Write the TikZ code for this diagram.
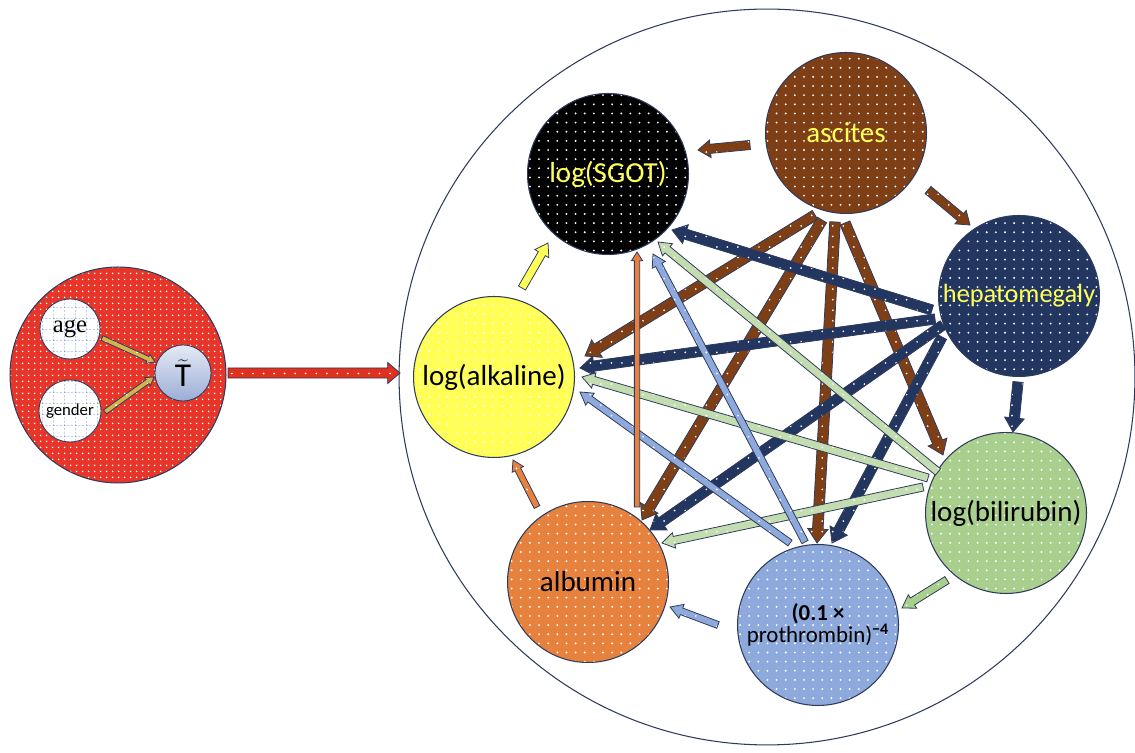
\documentclass[tikz,border=0pt]{standalone}
\usepackage{fontspec}
\setmainfont{Carlito}
\newfontfamily\agefont{Liberation Serif}
\usetikzlibrary{calc,patterns.meta}

\definecolor{edgecol}{HTML}{2F3B5C}
\definecolor{redfill}{HTML}{E8352A}
\definecolor{brownfill}{HTML}{7E3F16}
\definecolor{navyfill}{HTML}{233660}
\definecolor{yellowfill}{HTML}{FFFF55}
\definecolor{greenfill}{HTML}{A9CF8E}
\definecolor{greenarrow}{HTML}{C3DDB0}
\definecolor{orangefill}{HTML}{E7823E}
\definecolor{bluefill}{HTML}{8EA9DB}
\definecolor{labelyellow}{HTML}{FFFF5A}
\definecolor{goldarrow}{HTML}{D6B24C}
\definecolor{tlight}{HTML}{E4E9F5}
\definecolor{tdark}{HTML}{9CAED6}
\definecolor{gridblue}{HTML}{4F78C0}
\definecolor{redarrow}{HTML}{E0301E}

\tikzdeclarepattern{
  name=nodedots, type=uncolored,
  bottom left={(-2.6pt,-2.6pt)}, top right={(2.6pt,2.6pt)},
  tile size={(5.2pt,5.2pt)},
  code={\fill (0pt,0pt) circle (0.6pt);}
}
\tikzdeclarepattern{
  name=reddots, type=uncolored,
  bottom left={(-1.6pt,-1.6pt)}, top right={(1.6pt,1.6pt)},
  tile size={(3.2pt,3.2pt)},
  code={\fill (0pt,0pt) circle (0.5pt);}
}
\tikzdeclarepattern{
  name=arrowdots, type=uncolored,
  bottom left={(-3pt,-3pt)}, top right={(3pt,3pt)},
  tile size={(6pt,6pt)},
  code={\fill (0pt,0pt) circle (0.55pt);}
}
\tikzdeclarepattern{
  name=dashgrid, type=uncolored,
  bottom left={(0pt,0pt)}, top right={(6pt,6pt)},
  tile size={(6pt,6pt)},
  code={\draw[line width=0.5pt, dash pattern=on 1.2pt off 0.8pt] (0pt,0pt) -- (6pt,0pt) (0pt,0pt) -- (0pt,6pt);}
}

\tikzset{
  var/.style={circle, draw=edgecol, line width=0.6pt, minimum size=3.22cm, inner sep=0pt,
    preaction={fill=#1}, pattern=nodedots, pattern color=white,
    font=\fontsize{16.5}{18}\selectfont},
  cov/.style={circle, draw=edgecol, line width=0.5pt, inner sep=0pt,
    preaction={fill=white}, pattern=dashgrid, pattern color=gridblue}
}

% fat arrow: colour, half shaft, half head, head length, start, tip
\newcommand{\blockarrow}[6]{%
  \coordinate (ba-s) at #5;
  \coordinate (ba-t) at #6;
  \coordinate (ba-h) at ($(ba-t)!#4!(ba-s)$);
  \path[draw=edgecol, line width=0.45pt, preaction={fill=#1}, pattern=arrowdots, pattern color=white]
    ($(ba-s)!#2!90:(ba-t)$) -- ($(ba-h)!#2!90:(ba-t)$) -- ($(ba-h)!#3!90:(ba-t)$) -- (ba-t)
    -- ($(ba-h)!#3!-90:(ba-t)$) -- ($(ba-h)!#2!-90:(ba-t)$) -- ($(ba-s)!#2!-90:(ba-t)$) -- cycle;
}

\begin{document}
\begin{tikzpicture}[x=0.02cm, y=0.02cm]
  \useasboundingbox (0,0) rectangle (1135,753);

  % covariates
  \node[circle, draw=edgecol, line width=0.6pt, minimum size=4.32cm, preaction={fill=redfill},
    pattern=reddots, pattern color=white] (cv) at (118,378) {};
  \node[cov, minimum size=1.2cm, font=\agefont\fontsize{14}{15}\selectfont] (age) at (70,424) {age};
  \node[cov, minimum size=1.24cm, font=\fontsize{9.5}{10}\selectfont] (gen) at (70,342) {gender};
  \node[circle, draw=edgecol, line width=0.5pt, minimum size=1.12cm, inner sep=0pt,
    top color=tlight, bottom color=tdark, font=\fontsize{19}{19}\selectfont] (T) at (183,380) {$\widetilde{\mathrm{T}}$};

  % network of markers
  \node[circle, draw=edgecol, line width=0.6pt, minimum size=14.72cm] (net) at (767,376) {};
  \node[var=black, text=labelyellow] (sgot) at (608,579) {log(SGOT)};
  \node[var=brownfill, text=labelyellow] (asc) at (846,620) {ascites};
  \node[var=navyfill, text=labelyellow, font=\fontsize{15}{16}\selectfont] (hep) at (1019,457) {hepatomegaly};
  \node[var=yellowfill] (alk) at (494,376) {log(alkaline)};
  \node[var=greenfill] (bil) at (1006,240) {log(bilirubin)};
  \node[var=orangefill] (alb) at (588,171) {albumin};
  \node[var=bluefill, align=center, font=\fontsize{13}{12.5}\selectfont] (pro) at (818,128)
    {\textbf{(0.1 ×}\\prothrombin)\textsuperscript{\textbf{−4}}};

  \blockarrow{goldarrow}{1.4pt}{2.8pt}{4.5pt}{($(age)+(32,-9)$)}{($(T)+(-28,11)$)}
  \blockarrow{goldarrow}{1.4pt}{2.8pt}{4.5pt}{($(gen)+(35,-1)$)}{($(T)+(-29,-4)$)}
  \blockarrow{redarrow}{2.9pt}{6pt}{7pt}{($(cv)+(110,2)$)}{($(net)+(-367,4)$)}

  % ascites
  \blockarrow{brownfill}{2.6pt}{5pt}{7pt}{($(asc)+(-96,-12)$)}{($(sgot)+(90,24)$)}
  \blockarrow{brownfill}{2.6pt}{5pt}{7pt}{($(asc)+(82,-57)$)}{($(hep)+(-49,71)$)}
  \blockarrow{brownfill}{3pt}{5.8pt}{8pt}{($(asc)+(-31,-82)$)}{($(alk)+(91,21)$)}
  \blockarrow{brownfill}{3pt}{5.8pt}{8pt}{($(asc)+(-24,-87)$)}{($(alb)+(54,62)$)}
  \blockarrow{brownfill}{3pt}{5.8pt}{8pt}{($(asc)+(-11,-89)$)}{($(pro)+(-1,82)$)}
  \blockarrow{brownfill}{3pt}{5.8pt}{8pt}{($(asc)+(-1,-90)$)}{($(bil)+(-63,58)$)}
  % hepatomegaly
  \blockarrow{navyfill}{2.9pt}{5.6pt}{8pt}{($(hep)+(-87,-14)$)}{($(sgot)+(64,-56)$)}
  \blockarrow{navyfill}{2.9pt}{5.6pt}{8pt}{($(hep)+(-84,-23)$)}{($(alk)+(86,9)$)}
  \blockarrow{navyfill}{2.9pt}{5.6pt}{8pt}{($(hep)+(-76,-29)$)}{($(alb)+(62,52)$)}
  \blockarrow{navyfill}{2.9pt}{5.6pt}{8pt}{($(hep)+(-77,-41)$)}{($(pro)+(14,82)$)}
  \blockarrow{navyfill}{2.9pt}{5.6pt}{8pt}{($(hep)+(-1,-86)$)}{($(bil)+(7,81)$)}
  % bilirubin
  \blockarrow{greenarrow}{2.3pt}{4.5pt}{7pt}{($(bil)+(-68,41)$)}{($(sgot)+(50,-68)$)}
  \blockarrow{greenarrow}{2.3pt}{4.5pt}{7pt}{($(bil)+(-78,35)$)}{($(alk)+(88,0)$)}
  \blockarrow{greenarrow}{2.3pt}{4.5pt}{7pt}{($(bil)+(-83,26)$)}{($(alb)+(74,39)$)}
  \blockarrow{greenfill}{2.3pt}{4.5pt}{7pt}{($(bil)+(-59,-67)$)}{($(pro)+(84,17)$)}
  % prothrombin
  \blockarrow{bluefill}{2pt}{4.2pt}{7pt}{($(pro)+(-13,83)$)}{($(sgot)+(45,-80)$)}
  \blockarrow{bluefill}{2pt}{4.2pt}{7pt}{($(pro)+(-28,82)$)}{($(alk)+(86,-15)$)}
  \blockarrow{bluefill}{2pt}{4.2pt}{7pt}{($(pro)+(-100,0)$)}{($(alb)+(82,-25)$)}
  % albumin and alkaline
  \blockarrow{orangefill}{1.5pt}{3.2pt}{5pt}{($(alb)+(49,75)$)}{($(sgot)+(29,-78)$)}
  \blockarrow{orangefill}{1.8pt}{3.6pt}{6pt}{($(alb)+(-51,75)$)}{($(alk)+(19,-83)$)}
  \blockarrow{yellowfill}{2.3pt}{4.6pt}{7pt}{($(alk)+(28,89)$)}{($(sgot)+(-60,-69)$)}
\end{tikzpicture}
\end{document}
